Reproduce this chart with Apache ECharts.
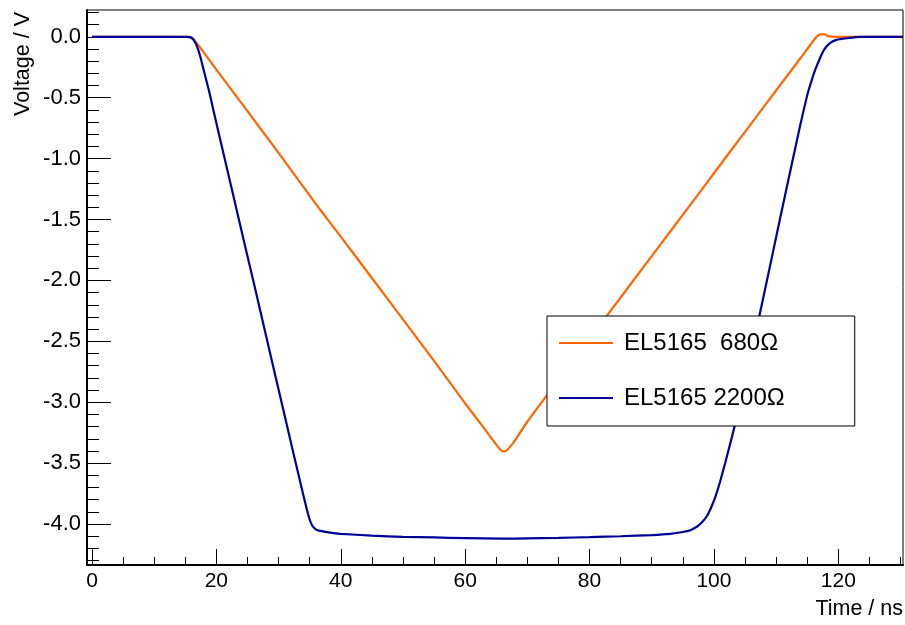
<!DOCTYPE html>
<html>
<head>
<meta charset="utf-8">
<script src="https://cdn.jsdelivr.net/npm/echarts@6/dist/echarts.min.js"></script>
<style>
html,body{margin:0;padding:0;background:#fff;}
#chart{width:905px;height:625px;}
</style>
</head>
<body>
<div id="chart"></div>
<script>
// ---- data (time in ns, voltage in V) ----
const seriesNames = ['EL5165  680\u03A9', 'EL5165 2200\u03A9'];
const orangeTime = [0,15.5,16.2,16.8,18,20,25,30,36.7,40,45,50,55,60,62.4,64,65.2,65.8,66.3,66.8,67.3,67.8,70,72.9,75,80,85,90,96.2,100,105,110.6,114,116.5,117.1,117.8,118.4,120,130.4];
const orangeVolt = [0,0,-0.01,-0.05,-0.13,-0.27,-0.61,-0.953,-1.42,-1.64,-1.98,-2.32,-2.66,-3.01,-3.17,-3.28,-3.36,-3.395,-3.405,-3.39,-3.36,-3.33,-3.16,-2.96,-2.82,-2.48,-2.14,-1.80,-1.38,-1.12,-0.78,-0.40,-0.17,0,0.02,0.02,0.005,0,0];
const blueTime = [0,15.3,15.9,16.4,16.9,17.4,18,18.8,19.6,21.2,22.8,24.4,26.2,29.2,32.4,33.6,34.3,34.8,35.2,35.6,36.2,38.3,40,45,50,55,60,66,70,75,80,85,90,93,95,96.2,97.3,98.0,98.8,99.5,100.2,101,101.8,103.4,107.4,110.6,113.9,115,115.7,116.3,117.1,117.8,118.7,119.7,121.4,123.5,130.4];
const blueVolt = [0,0,-0.005,-0.03,-0.08,-0.16,-0.28,-0.44,-0.62,-0.97,-1.32,-1.67,-2.06,-2.72,-3.42,-3.68,-3.83,-3.93,-3.99,-4.025,-4.05,-4.07,-4.08,-4.095,-4.105,-4.11,-4.115,-4.12,-4.117,-4.113,-4.107,-4.10,-4.09,-4.08,-4.065,-4.05,-4.02,-3.99,-3.94,-3.87,-3.78,-3.65,-3.50,-3.18,-2.27,-1.50,-0.72,-0.48,-0.36,-0.27,-0.17,-0.10,-0.05,-0.025,-0.012,0,0];
const xTitle = 'Time / ns';
const yTitle = 'Voltage / V';
const xRange = [-0.8, 130.4];
const yRange = [-4.336, 0.22];
const xTicks = [0, 20, 40, 60, 80, 100, 120];
const xMinorTicks = [0,5,10,15,20,25,30,35,40,45,50,55,60,65,70,75,80,85,90,95,100,105,110,115,120,125,130];
const yTicks = [-4.0, -3.5, -3.0, -2.5, -2.0, -1.5, -1.0, -0.5, 0.0];
const yMinorTicks = [-4.3,-4.2,-4.1,-4.0,-3.9,-3.8,-3.7,-3.6,-3.5,-3.4,-3.3,-3.2,-3.1,-3.0,-2.9,-2.8,-2.7,-2.6,-2.5,-2.4,-2.3,-2.2,-2.1,-2.0,-1.9,-1.8,-1.7,-1.6,-1.5,-1.4,-1.3,-1.2,-1.1,-1.0,-0.9,-0.8,-0.7,-0.6,-0.5,-0.4,-0.3,-0.2,-0.1,0.0,0.1,0.2];
const colors = ['#ff6600', '#000099'];

const FONT = '"Liberation Sans", Arial, Helvetica, sans-serif';
const zip = (a, b) => a.map((v, i) => [v, b[i]]);

const chart = echarts.init(document.getElementById('chart'), null, {renderer: 'canvas'});
const baseX = {
  type: 'value', min: xRange[0], max: xRange[1], splitLine: {show: false},
  axisLine: {show: true, onZero: false, lineStyle: {color: '#000', width: 2}}
};
const baseY = {
  type: 'value', min: yRange[0], max: yRange[1], splitLine: {show: false},
  axisLine: {show: true, onZero: false, lineStyle: {color: '#000', width: 2}}
};
chart.setOption({
  animation: false,
  backgroundColor: '#fff',
  grid: {left: 87, top: 10, right: 2, bottom: 60, show: true, borderColor: '#000', borderWidth: 1, backgroundColor: 'transparent'},
  xAxis: [
    Object.assign({}, baseX, {
      axisTick: {show: true, inside: true, length: 16, customValues: xTicks, lineStyle: {color: '#000', width: 1}},
      axisLabel: {show: true, customValues: xTicks, margin: 6, color: '#000', fontFamily: FONT, fontSize: 21,
        formatter: v => String(Math.round(v))}
    }),
    Object.assign({}, baseX, {
      position: 'bottom',
      axisLine: {show: false, onZero: false},
      axisTick: {show: true, inside: true, length: 8, customValues: xMinorTicks, lineStyle: {color: '#000', width: 1}},
      axisLabel: {show: false}
    })
  ],
  yAxis: [
    Object.assign({}, baseY, {
      axisTick: {show: true, inside: true, length: 24, customValues: yTicks, lineStyle: {color: '#000', width: 1}},
      axisLabel: {show: true, customValues: yTicks, margin: 6, color: '#000', fontFamily: FONT, fontSize: 22,
        formatter: v => (Math.abs(v) < 1e-9 ? 0 : v).toFixed(1)}
    }),
    Object.assign({}, baseY, {
      position: 'left',
      axisLine: {show: false, onZero: false},
      axisTick: {show: true, inside: true, length: 12, customValues: yMinorTicks, lineStyle: {color: '#000', width: 1}},
      axisLabel: {show: false}
    })
  ],
  legend: {
    orient: 'vertical', left: 547, top: 316,
    itemWidth: 54, itemHeight: 14, itemGap: 31,
    padding: [15, 70, 16, 11],
    backgroundColor: '#fff', borderColor: '#000', borderWidth: 1,
    itemStyle: {opacity: 0},
    textStyle: {fontFamily: FONT, fontSize: 24, color: '#000', lineHeight: 24, padding: [0, 0, 0, 6]},
    data: seriesNames
  },
  graphic: [
    {type: 'text', x: 23, y: 12, rotation: Math.PI / 2,
      style: {text: yTitle, font: '21.5px ' + FONT, fill: '#000', align: 'right', verticalAlign: 'middle'}},
    {type: 'text', x: 903, y: 609,
      style: {text: xTitle, font: '21.5px ' + FONT, fill: '#000', align: 'right', verticalAlign: 'middle'}}
  ],
  series: [
    {name: seriesNames[0], type: 'line', data: zip(orangeTime, orangeVolt), symbol: 'none', smooth: 0.15,
      lineStyle: {color: colors[0], width: 2.2}, itemStyle: {color: colors[0]}, clip: true},
    {name: seriesNames[1], type: 'line', data: zip(blueTime, blueVolt), symbol: 'none', smooth: 0.15,
      lineStyle: {color: colors[1], width: 2.2}, itemStyle: {color: colors[1]}, clip: true}
  ]
});
</script>
</body>
</html>
